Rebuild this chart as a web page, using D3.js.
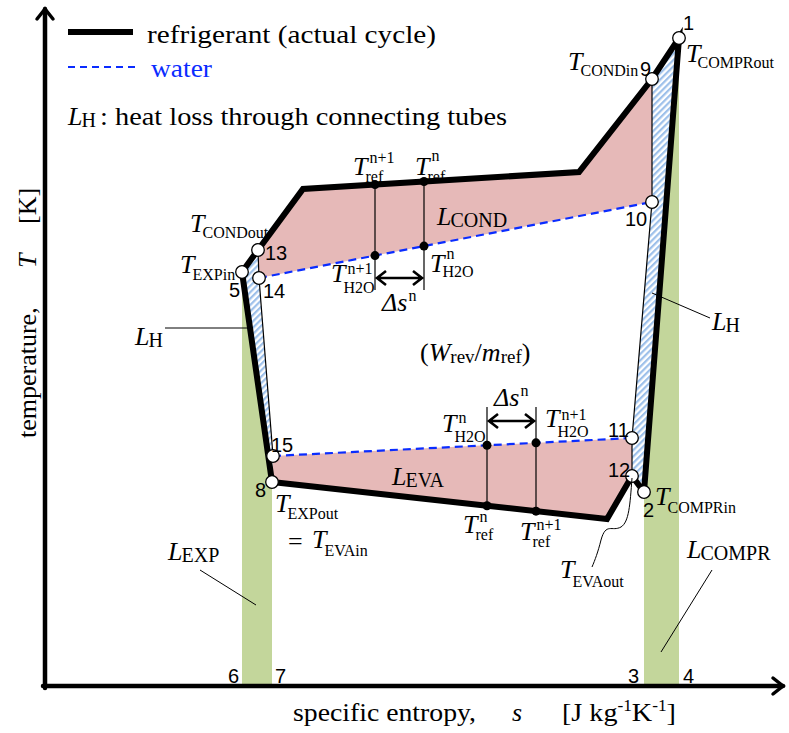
<!DOCTYPE html>
<html><head><meta charset="utf-8">
<script src="https://cdn.jsdelivr.net/npm/d3@7"></script>
<style>body{margin:0;background:#fff} svg{display:block}</style>
</head><body>
<svg id="c" width="789" height="733"></svg>
<script>
// ---- schematic T-s diagram values (arbitrary units) ----
const sDomain = [0, 740];
const TDomain = [0, 678];

// state points of the cycle (c1, c2, e1 are unlabeled corners)
const stateNames = ["1","2","5","8","9","10","11","12","13","14","15","c1","c2","e1"];
const stateS     = [634, 599, 197, 227, 607, 607, 587, 587, 213, 214, 228, 534, 258, 562];
const stateT     = [648, 194, 414, 204, 607, 484, 248, 210, 436, 408, 230, 514, 497, 167];

// refrigerant actual cycle path
const refrigerantPath = ["2","1","9","c1","c2","13","5","8","e1","12","2"];
// water lines
const condWater = ["14","10"];
const evaWater  = ["15","11"];
// thin connecting lines (tube heat loss boundaries)
const thinRight = ["9","10","11","12"];
const thinLeft  = ["13","14","15"];
// areas
const condArea  = ["9","c1","c2","13","14","10"];
const evaArea   = ["15","11","12","e1","8"];
const lossRight = ["9","1","2","12","11","10"];
const lossLeft  = ["13","5","8","15","14"];
const expArea   = ["5","8"];   // area under line 5-8 (L_EXP)
const comprArea = ["2","1"];   // area under line 2-1 (L_COMPR)

// discretisation steps Δs
const condStepS = [330, 379];
const evaStepS  = [442, 491];

// axis bottom labels
const bottomNums = ["6","7","3","4"];

const SERIF = "'Liberation Serif','Times New Roman',serif";
const SANS  = "'Liberation Sans',Arial,sans-serif";

const svg = d3.select("#c");
const x = d3.scaleLinear().domain(sDomain).range([45, 785]);
const y = d3.scaleLinear().domain(TDomain).range([686, 8]);
const P = {};
stateNames.forEach((n,i)=>P[n]=[stateS[i], stateT[i]]);
const line = d3.line().x(d=>x(d[0])).y(d=>y(d[1]));
const pts = names => names.map(n=>P[n]);
const interp = (a,b,s) => P[a][1] + (P[b][1]-P[a][1])*(s-P[a][0])/(P[b][0]-P[a][0]);

// defs
const defs = svg.append("defs");
const pat = defs.append("pattern").attr("id","hatch").attr("patternUnits","userSpaceOnUse")
  .attr("width",4.5).attr("height",4.5).attr("patternTransform","rotate(45)");
pat.append("rect").attr("width",4.5).attr("height",4.5).attr("fill","#ffffff");
pat.append("rect").attr("width",2.2).attr("height",4.5).attr("fill","#9dc0ea");

// green areas under expansion / compression lines
const under = names => { const p = pts(names); return [...p, [p[1][0], TDomain[0]], [p[0][0], TDomain[0]]]; };
svg.append("path").attr("d", line(under(expArea))+"Z").attr("fill","#c3d69b");
svg.append("path").attr("d", line(under(comprArea))+"Z").attr("fill","#c3d69b");

// pink exergy loss areas
svg.append("path").attr("d", line(pts(condArea))+"Z").attr("fill","#e6b9b8");
svg.append("path").attr("d", line(pts(evaArea))+"Z").attr("fill","#e6b9b8");

// hatched tube-loss areas
svg.append("path").attr("d", line(pts(lossRight))+"Z").attr("fill","url(#hatch)");
svg.append("path").attr("d", line(pts(lossLeft))+"Z").attr("fill","url(#hatch)");

// thin lines
[thinRight, thinLeft].forEach(l=>svg.append("path").attr("d", line(pts(l)))
  .attr("fill","none").attr("stroke","#000").attr("stroke-width",1.2));

// step vertical lines
condStepS.forEach(s=>{
  const tr = interp("c2","c1",s);
  svg.append("line").attr("x1",x(s)).attr("x2",x(s)).attr("y1",y(tr)).attr("y2",y(396))
    .attr("stroke","#000").attr("stroke-width",1.2);
});
evaStepS.forEach(s=>{
  const tr = interp("8","e1",s);
  svg.append("line").attr("x1",x(s)).attr("x2",x(s)).attr("y1",y(279)).attr("y2",y(tr))
    .attr("stroke","#000").attr("stroke-width",1.2);
});

// water dashed lines
[condWater, evaWater].forEach(l=>svg.append("path").attr("d", line(pts(l)))
  .attr("fill","none").attr("stroke","#0a2cff").attr("stroke-width",2.2).attr("stroke-dasharray","8,5"));

// refrigerant thick line
svg.append("path").attr("d", line(pts(refrigerantPath)))
  .attr("fill","none").attr("stroke","#000").attr("stroke-width",6).attr("stroke-linejoin","miter");

// Δs arrows
function dblArrow(s1, s2, T){
  const x1 = x(s1)+2, x2 = x(s2)-2, yy = y(T);
  svg.append("path").attr("d",`M${x1},${yy}L${x2},${yy}M${x1+9},${yy-7}L${x1},${yy}L${x1+9},${yy+7}M${x2-9},${yy-7}L${x2},${yy}L${x2-9},${yy+7}`)
    .attr("fill","none").attr("stroke","#000").attr("stroke-width",2.6);
}
dblArrow(condStepS[0], condStepS[1], 408);
dblArrow(evaStepS[0], evaStepS[1], 265);

// black dots
const dots = [];
condStepS.forEach(s=>{ dots.push([s, interp("c2","c1",s)]); dots.push([s, interp("14","10",s)]); });
evaStepS.forEach(s=>{ dots.push([s, interp("8","e1",s)]); dots.push([s, interp("15","11",s)]); });
svg.selectAll(".dot").data(dots).enter().append("circle").attr("cx",d=>x(d[0])).attr("cy",d=>y(d[1]))
  .attr("r",4.5).attr("fill","#000");

// open circles at state points
const circ = ["1","9","10","13","5","14","15","8","11","12","2"];
svg.selectAll(".st").data(circ).enter().append("circle").attr("cx",n=>x(P[n][0])).attr("cy",n=>y(P[n][1]))
  .attr("r",6.3).attr("fill","#fff").attr("stroke","#000").attr("stroke-width",1.3);

// axes
const ax = svg.append("g").attr("fill","none").attr("stroke","#000").attr("stroke-linecap","round").attr("stroke-linejoin","miter");
const X0 = x(sDomain[0]), Y0 = y(TDomain[0]), X1 = x(sDomain[1]) - 2, Y1 = y(TDomain[1]) + 1;
ax.append("path").attr("d",`M${X0},${Y0+2}L${X0},${Y1}`).attr("stroke-width",4.5);
ax.append("path").attr("d",`M${X0-2},${Y0}L${X1},${Y0}`).attr("stroke-width",4.5);
ax.append("path").attr("d",`M${X0-8},${Y1+10}L${X0},${Y1}L${X0+8},${Y1+10}`).attr("stroke-width",3.5);
ax.append("path").attr("d",`M${X1-10},${Y0-8}L${X1},${Y0}L${X1-10},${Y0+8}`).attr("stroke-width",3.5);

// ---- text helpers ----
function txt(xp, yp, s, o={}){
  const t = svg.append("text").attr("x",xp).attr("y",yp).attr("font-family",o.ff||SERIF)
    .attr("font-size",o.fs||26).attr("fill",o.fill||"#000").text(s);
  if (o.it) t.attr("font-style","italic");
  if (o.len) t.attr("textLength",o.len).attr("lengthAdjust","spacingAndGlyphs");
  return t;
}
function sym(xp, yp, base, o={}){
  const bs = o.bs||26, ss = o.ss||16;
  const t = txt(xp, yp, base, {fs:bs, it:true});
  const w = t.node().getComputedTextLength();
  if (o.sub) txt(xp + w + (o.subdx ?? -2), yp + (o.subdy ?? 7), o.sub, {fs:ss});
  if (o.sup) txt(xp + w + (o.supdx ?? 2), yp + (o.supdy ?? -11), o.sup, {fs:ss});
}
const num = (xp, yp, s) => txt(xp, yp, s, {ff:SANS, fs:20});

// legend
svg.append("line").attr("x1",68).attr("x2",133).attr("y1",32).attr("y2",32).attr("stroke","#000").attr("stroke-width",6);
txt(147, 43, "refrigerant (actual cycle)", {fs:25, len:289});
svg.append("line").attr("x1",68).attr("x2",137).attr("y1",67).attr("y2",67).attr("stroke","#0a2cff").attr("stroke-width",2).attr("stroke-dasharray","7,5");
txt(151, 77, "water", {fs:25, fill:"#0a2cff", len:61});
sym(68, 125, "L", {sub:"H", ss:20, subdy:2, subdx:-1});
txt(100, 125, ": heat loss through connecting tubes", {fs:25, len:407});

// axis titles
txt(293, 721, "specific entropy,", {fs:26, len:183});
txt(512, 721, "s", {fs:26, it:true});
const xl = svg.append("text").attr("x",562).attr("y",721).attr("font-family",SERIF).attr("font-size",26)
  .attr("textLength",114).attr("lengthAdjust","spacingAndGlyphs");
xl.append("tspan").text("[J kg");
xl.append("tspan").attr("font-size",16).attr("dy",-10).text("-1");
xl.append("tspan").attr("dy",10).text("K");
xl.append("tspan").attr("font-size",16).attr("dy",-10).text("-1");
xl.append("tspan").attr("dy",10).text("]");
const yl = (yStart, s, it) => { const t = svg.append("text").attr("transform",`translate(36,${yStart}) rotate(-90)`)
  .attr("font-family",SERIF).attr("font-size",26).text(s); if(it) t.attr("font-style","italic"); };
yl(438, "temperature,");
yl(268, "T", true);
yl(224, "[K]");

// state numbers
num(683, 30, "1");
num(640, 76, "9");
num(625, 226, "10");
num(265, 260, "13");
num(263, 298, "14");
num(229, 297, "5");
num(271, 452, "15");
num(255, 497, "8");
num(608, 437, "11");
num(608, 477, "12");
num(643, 517, "2");
num(228, 683, bottomNums[0]);
num(275, 683, bottomNums[1]);
num(628, 683, bottomNums[2]);
num(683, 683, bottomNums[3]);

// temperature labels
sym(686, 62, "T", {sub:"COMPRout", subdx:-3, subdy:6});
sym(568, 70, "T", {sub:"CONDin", subdy:6});
sym(190, 232, "T", {sub:"CONDout", subdy:6});
sym(180, 273, "T", {sub:"EXPin", subdy:7});
sym(655, 505, "T", {sub:"COMPRin", subdy:8});
sym(560, 578, "T", {sub:"EVAout", subdy:9});
sym(275, 512, "T", {sub:"EXPout", subdy:7});
txt(288, 550, "=", {fs:26});
sym(312, 548, "T", {sub:"EVAin", subdy:8});

// step labels
sym(353, 175, "T", {sub:"ref", sup:"n+1", subdy:7, supdy:-12});
sym(415, 175, "T", {sub:"ref", sup:"n", subdy:7, supdy:-14});
sym(331, 282, "T", {sub:"H2O", sup:"n+1", subdy:11, supdy:-8});
sym(430, 272, "T", {sub:"H2O", sup:"n", subdy:5, supdy:-13});
sym(442, 432, "T", {sub:"H2O", sup:"n", subdy:10, supdy:-9});
sym(545, 427, "T", {sub:"H2O", sup:"n+1", subdy:10, supdy:-7});
sym(463, 533, "T", {sub:"ref", sup:"n", subdy:7, supdy:-11});
sym(520, 540, "T", {sub:"ref", sup:"n+1", subdy:7, supdy:-10});
sym(382, 311, "Δs", {sup:"n", supdy:-10, supdx:1});
sym(494, 406, "Δs", {sup:"n", supdy:-10, supdx:1});

// loss labels
sym(437, 225, "L", {sub:"COND", ss:20, subdy:2, subdx:-1});
sym(392, 485, "L", {sub:"EVA", ss:20, subdy:2, subdx:-1});
sym(135, 345, "L", {sub:"H", ss:20, subdy:2, subdx:-1});
sym(712, 330, "L", {sub:"H", ss:20, subdy:2, subdx:-1});
sym(168, 560, "L", {sub:"EXP", ss:20, subdy:2, subdx:-1});
sym(687, 558, "L", {sub:"COMPR", ss:20, subdy:2, subdx:-1});

// (W_rev / m_ref)
const wl = svg.append("text").attr("x",420).attr("y",361).attr("font-family",SERIF).attr("font-size",26);
wl.append("tspan").text("(");
wl.append("tspan").attr("font-style","italic").text("W");
wl.append("tspan").attr("font-size",19).attr("dy",2).text("rev");
wl.append("tspan").attr("dy",-2).text("/");
wl.append("tspan").attr("font-style","italic").text("m");
wl.append("tspan").attr("font-size",19).attr("dy",2).text("ref");
wl.append("tspan").attr("dy",-2).text(")");

// leader lines
const lead = svg.append("g").attr("fill","none").attr("stroke","#000").attr("stroke-width",1);
lead.append("path").attr("d","M165,328L253,328");
lead.append("path").attr("d","M652,293L710,318");
lead.append("path").attr("d","M200,570L256,605");
lead.append("path").attr("d","M712,570L661,652");
lead.append("path").attr("d","M632,478C630,505 629,522 621,527C612,532 606,522 601,540C598,552 595,560 592,567");
</script>
</body></html>
